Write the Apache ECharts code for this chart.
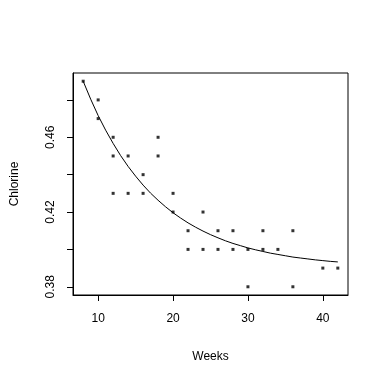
<!DOCTYPE html>
<html>
<head>
<meta charset="utf-8">
<script src="https://cdn.jsdelivr.net/npm/echarts@6/dist/echarts.min.js"></script>
<style>html,body{margin:0;padding:0;background:#fff}#c{width:384px;height:384px}</style>
</head>
<body>
<div id="c"></div>
<script>
// Observed points (weeks, chlorine)
var weeks    = [8, 10, 10, 12, 12, 12, 14, 14, 16, 16, 18, 18, 20, 20, 22, 22, 24, 24, 26, 26, 28, 28, 30, 30, 32, 32, 34, 36, 36, 40, 42];
var chlorine = [0.49, 0.48, 0.47, 0.46, 0.45, 0.43, 0.45, 0.43, 0.44, 0.43, 0.46, 0.45, 0.43, 0.42, 0.41, 0.40, 0.42, 0.40, 0.41, 0.40, 0.41, 0.40, 0.40, 0.38, 0.41, 0.40, 0.40, 0.41, 0.38, 0.39, 0.39];
// Fitted curve
var curveWeeks = [8, 9, 10, 11, 12, 13, 14, 15, 16, 17, 18, 19, 20, 21, 22, 23, 24, 25, 26, 27, 28, 29, 30, 31, 32, 33, 34, 35, 36, 37, 38, 39, 40, 41, 42];
var curveVals  = [0.490, 0.4804, 0.4716, 0.4638, 0.4567, 0.4502, 0.4444, 0.4392, 0.4344, 0.4301, 0.4263, 0.4228, 0.4196, 0.4168, 0.4142, 0.4119, 0.4098, 0.4079, 0.4062, 0.4046, 0.4032, 0.4020, 0.4008, 0.3998, 0.3989, 0.3980, 0.3973, 0.3966, 0.3959, 0.3954, 0.3949, 0.3944, 0.3940, 0.3936, 0.3933];
// Tick marks and labels
var xTicks = [10, 20, 30, 40];
var yTicks = [0.38, 0.40, 0.42, 0.44, 0.46, 0.48];
var yLabels = [0.38, 0.42, 0.46];

var pts = weeks.map(function(w, i){ return [w, chlorine[i]]; });
var curve = curveWeeks.map(function(w, i){ return [w, curveVals[i]]; });

var font = 'Liberation Sans, Arial, sans-serif';
var chart = echarts.init(document.getElementById('c'), null, {renderer: 'canvas'});
chart.setOption({
  backgroundColor: '#fff',
  animation: false,
  grid: {left: 73, right: 36, top: 73, bottom: 89, show: true, borderColor: '#000', borderWidth: 1, backgroundColor: 'transparent'},
  xAxis: {
    type: 'value', min: 6.64, max: 43.36,
    name: 'Weeks', nameLocation: 'middle', nameGap: 56,
    nameTextStyle: {color: '#000', fontSize: 12, fontFamily: font},
    axisLine: {show: true, lineStyle: {color: '#000', width: 1}},
    axisTick: {show: true, length: 6, lineStyle: {color: '#000'}, customValues: xTicks},
    axisLabel: {color: '#000', fontSize: 12, fontFamily: font, margin: 18, customValues: xTicks},
    splitLine: {show: false}
  },
  yAxis: {
    type: 'value', min: 0.3756, max: 0.4944,
    name: 'Chlorine', nameLocation: 'middle', nameGap: 52, nameRotate: 90,
    nameTextStyle: {color: '#000', fontSize: 12, fontFamily: font},
    axisLine: {show: true, lineStyle: {color: '#000', width: 1}},
    axisTick: {show: true, length: 6, lineStyle: {color: '#000'}, customValues: yTicks},
    axisLabel: {color: '#000', fontSize: 12, fontFamily: font, margin: 16, rotate: 90, customValues: yLabels,
      formatter: function(v){ return v.toFixed(2); }},
    splitLine: {show: false}
  },
  series: [
    {type: 'scatter', data: pts, symbol: 'rect', symbolSize: 3, itemStyle: {color: '#000'}, z: 3},
    {type: 'line', data: curve, showSymbol: false, smooth: false, lineStyle: {color: '#000', width: 1}, z: 2}
  ]
});
</script>
</body>
</html>
